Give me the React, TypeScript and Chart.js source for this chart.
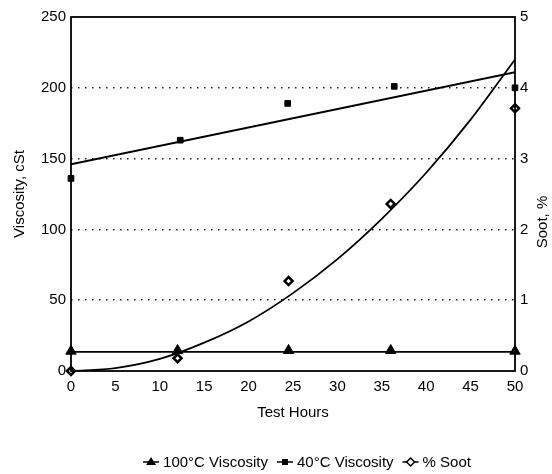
import { useEffect, useRef } from 'react';
import { Chart, registerables } from 'chart.js';
Chart.register(...registerables);

// ---- data ----
const HOURS_100 = [0, 12, 24.5, 36, 50];
const VISC_100 = [14, 14.5, 14.5, 14.5, 14];
const FIT_100_HOURS = [0, 50];
const FIT_100 = [13.5, 13.5];

const HOURS_40 = [0, 12.3, 24.4, 36.4, 50];
const VISC_40 = [136, 163, 189, 201, 200];
const FIT_40_HOURS = [0, 50];
const FIT_40 = [146, 211];

const HOURS_SOOT = [0, 12, 24.5, 36, 50];
const SOOT = [0, 0.18, 1.27, 2.36, 3.71];
const FIT_SOOT_HOURS = [0, 5, 10, 15, 20, 25, 30, 35, 40, 45, 50];
const FIT_SOOT = [0, 0.04, 0.17, 0.4, 0.7, 1.1, 1.58, 2.15, 2.8, 3.55, 4.4];

const LEGEND_LABELS = ['100°C Viscosity', '40°C Viscosity', '% Soot'];
const X_TITLE = 'Test Hours';
const Y_TITLE = 'Viscosity, cSt';
const Y1_TITLE = 'Soot, %';

const FONT = '"Liberation Sans", Arial, Helvetica, sans-serif';

const pts = (xs: number[], ys: number[]) => xs.map((x, i) => ({ x, y: ys[i] }));

export default function App() {
  const ref = useRef<HTMLCanvasElement>(null);
  useEffect(() => {
    document.body.style.margin = '0';
    const canvas = ref.current!;
    const overlay = {
      id: 'overlay',
      afterDraw(chart: any) {
        const { ctx, chartArea: a } = chart;
        ctx.save();
        // frame
        ctx.strokeStyle = '#000';
        ctx.lineWidth = 1.8;
        ctx.strokeRect(a.left, a.top, a.right - a.left, a.bottom - a.top);
        ctx.fillStyle = '#000';
        // x title
        ctx.font = `15px ${FONT}`;
        ctx.textAlign = 'center';
        ctx.textBaseline = 'middle';
        ctx.fillText(X_TITLE, (a.left + a.right) / 2, 413);
        // left title
        ctx.save();
        ctx.translate(20, (a.top + a.bottom) / 2);
        ctx.rotate(-Math.PI / 2);
        ctx.fillText(Y_TITLE, 0, 0);
        ctx.restore();
        // right title
        ctx.save();
        ctx.translate(543, 222);
        ctx.rotate(-Math.PI / 2);
        ctx.fillText(Y1_TITLE, 0, 0);
        ctx.restore();
        // legend
        ctx.font = `15px ${FONT}`;
        const styles = ['triangle', 'rect', 'rectRot'];
        const markerW = 16;
        const gapM = 4;
        const gapItem = 9;
        const widths = LEGEND_LABELS.map((t) => ctx.measureText(t).width);
        const total = widths.reduce((s, w) => s + w, 0) + LEGEND_LABELS.length * (markerW + gapM) + gapItem * (LEGEND_LABELS.length - 1);
        let x = 307 - total / 2;
        const y = 462;
        ctx.textAlign = 'left';
        LEGEND_LABELS.forEach((t, i) => {
          ctx.strokeStyle = '#000';
          ctx.lineWidth = 1.5;
          ctx.beginPath();
          ctx.moveTo(x, y);
          ctx.lineTo(x + markerW, y);
          ctx.stroke();
          ctx.fillStyle = i === 2 ? '#fff' : '#000';
          const cx = x + markerW / 2;
          ctx.beginPath();
          if (styles[i] === 'triangle') {
            ctx.moveTo(cx, y - 5);
            ctx.lineTo(cx + 5, y + 3);
            ctx.lineTo(cx - 5, y + 3);
            ctx.closePath();
            ctx.fill();
          } else if (styles[i] === 'rect') {
            ctx.fillRect(cx - 3, y - 3, 6, 6);
          } else {
            ctx.moveTo(cx, y - 4);
            ctx.lineTo(cx + 4, y);
            ctx.lineTo(cx, y + 4);
            ctx.lineTo(cx - 4, y);
            ctx.closePath();
            ctx.fill();
            ctx.stroke();
          }
          ctx.fillStyle = '#000';
          ctx.fillText(t, x + markerW + gapM, y + 1);
          x += markerW + gapM + widths[i] + gapItem;
        });
        ctx.restore();
      },
    };

    const chart = new Chart(canvas, {
      type: 'scatter',
      data: {
        datasets: [
          {
            label: LEGEND_LABELS[0],
            data: pts(HOURS_100, VISC_100),
            yAxisID: 'y',
            pointStyle: 'triangle',
            pointRadius: 6,
            backgroundColor: '#000',
            borderColor: '#000',
            borderWidth: 1,
            showLine: false,
            clip: false,
          },
          {
            label: 'fit100',
            data: pts(FIT_100_HOURS, FIT_100),
            yAxisID: 'y',
            showLine: true,
            pointRadius: 0,
            borderColor: '#000',
            borderWidth: 1.8,
          },
          {
            label: LEGEND_LABELS[1],
            data: pts(HOURS_40, VISC_40),
            yAxisID: 'y',
            pointStyle: 'rect',
            pointRadius: 4,
            backgroundColor: '#000',
            borderColor: '#000',
            borderWidth: 1,
            showLine: false,
            clip: false,
          },
          {
            label: 'fit40',
            data: pts(FIT_40_HOURS, FIT_40),
            yAxisID: 'y',
            showLine: true,
            pointRadius: 0,
            borderColor: '#000',
            borderWidth: 1.8,
          },
          {
            label: LEGEND_LABELS[2],
            data: pts(HOURS_SOOT, SOOT),
            yAxisID: 'y1',
            pointStyle: 'rectRot',
            pointRadius: 4,
            backgroundColor: '#fff',
            borderColor: '#000',
            borderWidth: 2.5,
            showLine: false,
            clip: false,
          },
          {
            label: 'fitSoot',
            data: pts(FIT_SOOT_HOURS, FIT_SOOT),
            yAxisID: 'y1',
            showLine: true,
            pointRadius: 0,
            borderColor: '#000',
            borderWidth: 1.8,
            cubicInterpolationMode: 'monotone',
          },
        ] as any,
      },
      options: {
        animation: false,
        responsive: false,
        layout: { padding: { top: 17, left: 0, right: 0, bottom: 0 } },
        plugins: { legend: { display: false }, tooltip: { enabled: false } },
        scales: {
          x: {
            type: 'linear',
            min: 0,
            max: 50,
            afterFit: (s: any) => { s.height = 103; },
            ticks: { stepSize: 5, padding: 7, color: '#000', font: { family: FONT, size: 15 } },
            grid: { display: false, drawTicks: false },
            border: { display: false },
          },
          y: {
            type: 'linear',
            position: 'left',
            min: 0,
            max: 250,
            afterFit: (s: any) => { s.width = 71; },
            ticks: { stepSize: 50, padding: 5, color: '#000', font: { family: FONT, size: 15 } },
            grid: {
              drawTicks: false,
              color: (c: any) => (c.tick && c.tick.value > 0 && c.tick.value < 250 ? '#222' : 'rgba(0,0,0,0)'),
              lineWidth: 1.5,
            },
            border: { display: false, dash: [1.5, 5.5] },
          },
          y1: {
            type: 'linear',
            position: 'right',
            min: 0,
            max: 5,
            afterFit: (s: any) => { s.width = 37; },
            ticks: { stepSize: 1, padding: 5, color: '#000', font: { family: FONT, size: 15 } },
            grid: { display: false, drawTicks: false },
            border: { display: false },
          },
        },
      } as any,
      plugins: [overlay],
    });
    return () => chart.destroy();
  }, []);
  return <canvas ref={ref} width={552} height={474} style={{ display: 'block' }} />;
}
